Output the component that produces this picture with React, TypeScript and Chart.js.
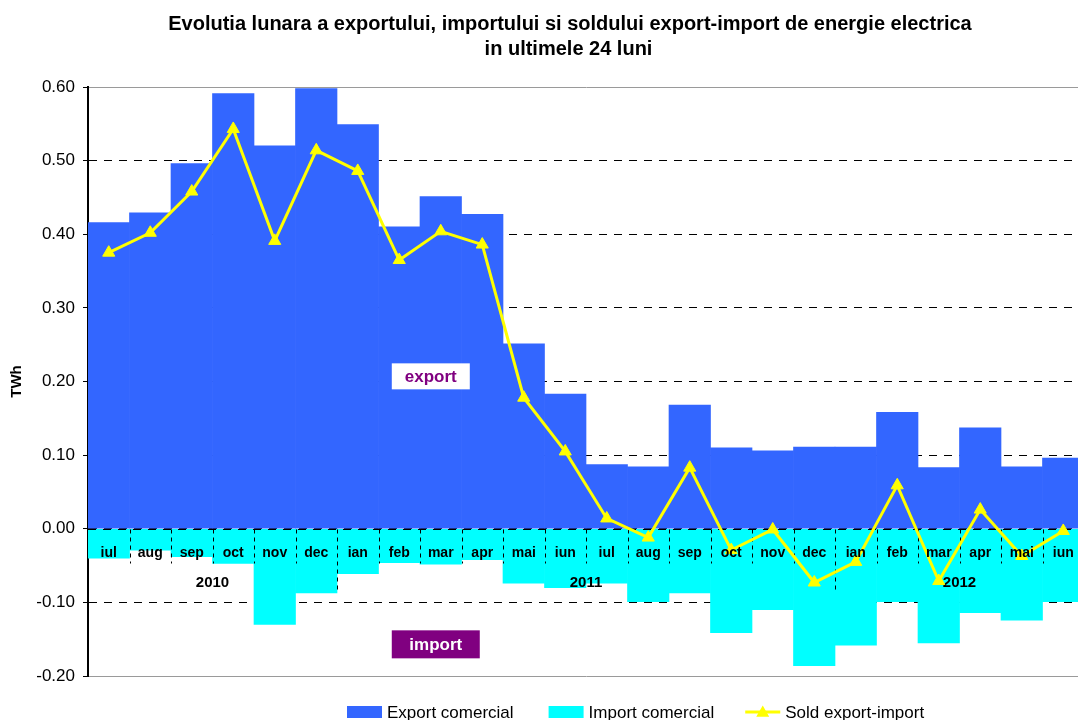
import React, { useEffect, useRef } from 'react';
import { Chart, registerables } from 'chart.js';

Chart.register(...registerables);

const FONT = '"Liberation Sans", Arial, sans-serif';
const EXPORT_COLOR = '#3366FF';
const IMPORT_COLOR = '#00FFFF';
const SOLD_COLOR = '#FFFF00';
const TAG_COLOR = '#800080';

const titleLines = [
  'Evolutia lunara a exportului, importului si soldului export-import de energie electrica',
  'in ultimele 24 luni',
];

const months = [
  'iul', 'aug', 'sep', 'oct', 'nov', 'dec', 'ian', 'feb', 'mar', 'apr', 'mai', 'iun',
  'iul', 'aug', 'sep', 'oct', 'nov', 'dec', 'ian', 'feb', 'mar', 'apr', 'mai', 'iun',
];

const exportValues = [
  0.416, 0.429, 0.496, 0.591, 0.520, 0.598, 0.549, 0.410, 0.451, 0.427, 0.251, 0.183,
  0.087, 0.084, 0.168, 0.110, 0.106, 0.111, 0.111, 0.158, 0.083, 0.137, 0.084, 0.096,
];

const importValues = [
  -0.040, -0.029, -0.038, -0.047, -0.130, -0.087, -0.061, -0.046, -0.048, -0.042, -0.074, -0.080,
  -0.074, -0.099, -0.087, -0.141, -0.110, -0.186, -0.158, -0.099, -0.155, -0.114, -0.124, -0.099,
];

const soldValues = [
  0.375, 0.402, 0.458, 0.543, 0.391, 0.514, 0.486, 0.365, 0.404, 0.386, 0.178, 0.105,
  0.014, -0.012, 0.083, -0.029, -0.001, -0.073, -0.045, 0.059, -0.071, 0.026, -0.037, -0.003,
];

const years = ['2010', '2011', '2012'];
const yearFirstIndex = [0, 6, 18];
const yearLastIndex = [5, 17, 23];

const seriesLabels = ['Export comercial', 'Import comercial', 'Sold export-import'];

const yMin = -0.2;
const yMax = 0.6;
const yStep = 0.1;
const yAxisTitle = 'TWh';

const exportTagText = 'export';
const importTagText = 'import';

function drawTriangle(ctx: CanvasRenderingContext2D, cx: number, cy: number, r: number) {
  ctx.beginPath();
  for (let k = 0; k < 3; k++) {
    const a = (k * 2 * Math.PI) / 3;
    const px = cx + Math.sin(a) * r;
    const py = cy - Math.cos(a) * r;
    if (k === 0) ctx.moveTo(px, py);
    else ctx.lineTo(px, py);
  }
  ctx.closePath();
  ctx.fill();
}

const overlayPlugin = {
  id: 'overlay',
  beforeDatasetDraw(chart: any, args: any) {
    if (args.meta.type !== 'line') return;
    const { ctx, chartArea, scales } = chart;
    const x = scales.x;
    const y = scales.y;
    const y0 = Math.round(y.getPixelForValue(0)) + 0.5;
    const half = (x.getPixelForValue(1) - x.getPixelForValue(0)) / 2;
    ctx.save();
    ctx.strokeStyle = '#000';
    ctx.lineWidth = 1;
    // dashed zero line
    ctx.setLineDash([8, 7]);
    ctx.beginPath();
    ctx.moveTo(chartArea.left, y0);
    ctx.lineTo(chartArea.right, y0);
    ctx.stroke();
    // category separators
    ctx.setLineDash([4, 4]);
    for (let i = 1; i < months.length; i++) {
      const bx = Math.round(x.getPixelForValue(i) - half) + 0.5;
      const isYear = yearFirstIndex.includes(i);
      ctx.beginPath();
      ctx.moveTo(bx, y0);
      ctx.lineTo(bx, y0 + (isYear ? 64 : 34));
      ctx.stroke();
    }
    ctx.setLineDash([]);
    // year labels
    ctx.fillStyle = '#000';
    ctx.font = `bold 15px ${FONT}`;
    ctx.textAlign = 'center';
    ctx.textBaseline = 'middle';
    years.forEach((yr, k) => {
      const cx = (x.getPixelForValue(yearFirstIndex[k]) + x.getPixelForValue(yearLastIndex[k])) / 2;
      ctx.fillText(yr, cx, y0 + 53);
    });
    // export / import tags
    ctx.font = `bold 17px ${FONT}`;
    const ex = x.getPixelForValue(7.76);
    const ey = y.getPixelForValue(0.207);
    ctx.fillStyle = '#FFFFFF';
    ctx.fillRect(ex - 39, ey - 13, 78, 26);
    ctx.fillStyle = TAG_COLOR;
    ctx.fillText(exportTagText, ex, ey + 1);
    const ix = x.getPixelForValue(7.88);
    const iy = y.getPixelForValue(-0.157);
    ctx.fillStyle = TAG_COLOR;
    ctx.fillRect(ix - 44, iy - 14, 88, 28);
    ctx.fillStyle = '#FFFFFF';
    ctx.fillText(importTagText, ix, iy + 1);
    ctx.restore();
  },
  afterDraw(chart: any) {
    const { ctx } = chart;
    ctx.save();
    // title
    ctx.fillStyle = '#000';
    ctx.font = `bold 20px ${FONT}`;
    ctx.textAlign = 'center';
    ctx.textBaseline = 'alphabetic';
    ctx.fillText(titleLines[0], 570, 30);
    ctx.fillText(titleLines[1], 568.5, 55);
    // legend
    ctx.font = `17px ${FONT}`;
    ctx.textAlign = 'left';
    const base = 718;
    let lx = 347;
    const ds = chart.data.datasets;
    const legendOrder = [1, 2, 0];
    const gaps = [35, 31, 0];
    legendOrder.forEach((di: number, k: number) => {
      const d = ds[di];
      if (d.type === 'line') {
        ctx.strokeStyle = d.borderColor;
        ctx.lineWidth = 3;
        ctx.beginPath();
        ctx.moveTo(lx, base - 6);
        ctx.lineTo(lx + 35, base - 6);
        ctx.stroke();
        ctx.fillStyle = d.borderColor;
        drawTriangle(ctx, lx + 17.5, base - 5, 7.5);
      } else {
        ctx.fillStyle = d.backgroundColor;
        ctx.fillRect(lx, base - 12, 35, 12);
      }
      ctx.fillStyle = '#000';
      ctx.fillText(d.label, lx + 40, base);
      lx += 40 + ctx.measureText(d.label).width + gaps[k];
    });
    ctx.restore();
  },
};

export default function App() {
  const ref = useRef<HTMLCanvasElement | null>(null);

  useEffect(() => {
    if (!ref.current) return;
    const chart = new Chart(ref.current, {
      type: 'bar',
      data: {
        labels: months,
        datasets: [
          {
            type: 'line',
            label: seriesLabels[2],
            data: soldValues,
            borderColor: SOLD_COLOR,
            backgroundColor: SOLD_COLOR,
            borderWidth: 3,
            pointStyle: 'triangle',
            pointRadius: 7,
            pointBorderWidth: 1,
            pointBackgroundColor: SOLD_COLOR,
            pointBorderColor: SOLD_COLOR,
            tension: 0,
            order: 0,
          } as any,
          {
            type: 'bar',
            label: seriesLabels[0],
            data: exportValues,
            backgroundColor: EXPORT_COLOR,
            borderWidth: 0,
            categoryPercentage: 1,
            barPercentage: 1,
            grouped: false,
            order: 1,
          },
          {
            type: 'bar',
            label: seriesLabels[1],
            data: importValues,
            backgroundColor: IMPORT_COLOR,
            borderWidth: 0,
            categoryPercentage: 1,
            barPercentage: 1,
            grouped: false,
            order: 1,
          },
        ],
      },
      options: {
        responsive: false,
        animation: false,
        devicePixelRatio: 1,
        layout: { padding: { top: 87, bottom: 44, left: 0, right: 1 } },
        plugins: {
          legend: { display: false },
          title: { display: false },
          tooltip: { enabled: false },
        },
        scales: {
          x: {
            type: 'category',
            position: { y: 0 } as any,
            offset: true,
            grid: { display: false, drawTicks: false },
            border: { display: false },
            ticks: {
              font: { family: FONT, size: 14, weight: 'bold' },
              color: '#000',
              padding: 16,
              maxRotation: 0,
              autoSkip: false,
              z: 1,
            } as any,
          },
          y: {
            min: yMin,
            max: yMax,
            ticks: {
              stepSize: yStep,
              callback: (v: any) => Number(v).toFixed(2),
              font: { family: FONT, size: 17 },
              color: '#000',
              padding: 8,
            },
            grid: {
              color: (c: any) => (c.index === 0 || c.index === 8 ? '#9a9a9a' : '#000'),
              lineWidth: 1,
              tickColor: '#000',
              tickLength: 5,
            },
            border: {
              display: true,
              color: '#000',
              width: 2,
              dash: (c: any) => (c.index === 0 || c.index === 8 ? [] : [8, 7]),
            } as any,
            title: {
              display: true,
              text: yAxisTitle,
              font: { family: FONT, size: 15, weight: 'bold' },
              color: '#000',
              padding: { top: 8, bottom: 0 },
            },
            afterFit: (s: any) => {
              s.width = 88;
            },
          },
        },
      },
      plugins: [overlayPlugin],
    });
    return () => chart.destroy();
  }, []);

  return (
    <div
      style={{
        position: 'fixed',
        left: 0,
        top: 0,
        width: 1078,
        height: 720,
        overflow: 'hidden',
        background: '#fff',
      }}
    >
      <canvas ref={ref} width={1092} height={720} style={{ display: 'block' }} />
    </div>
  );
}
